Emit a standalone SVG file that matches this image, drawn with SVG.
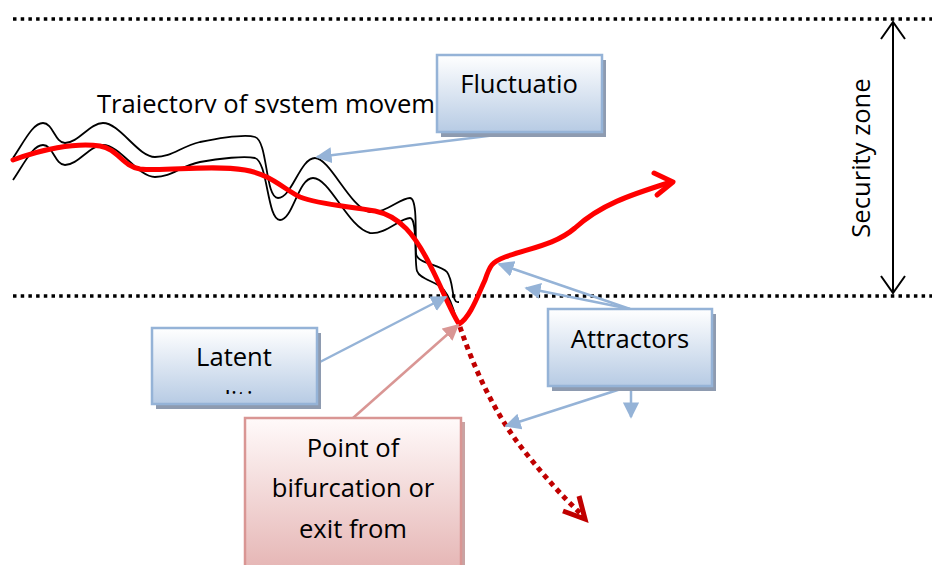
<svg xmlns="http://www.w3.org/2000/svg" width="932" height="565" viewBox="0 0 932 565">
<style>
text{font-family:"Open Sans","Noto Sans",sans-serif;font-size:25.6px;fill:#000}
.dot{stroke:#000;stroke-width:3.5;stroke-dasharray:3.5 4.2;fill:none}
.blk{stroke:#000;stroke-width:1.8;fill:none}
.conn{stroke:#95b3d7;stroke-width:2.5;fill:none;marker-end:url(#ab)}
.bbox{fill:url(#gb);stroke:#95b3d7;stroke-width:2.5}
.pbox{fill:url(#gp);stroke:#d99694;stroke-width:2.5}
.shadow{fill:#8e9bb0}
</style>
<defs>
<linearGradient id="gb" x1="0" y1="0" x2="0" y2="1"><stop offset="0" stop-color="#ffffff"/><stop offset="1" stop-color="#b7cbe4"/></linearGradient>
<linearGradient id="gp" x1="0" y1="0" x2="0" y2="1"><stop offset="0" stop-color="#fffafa"/><stop offset="1" stop-color="#e4b2b1"/></linearGradient>
<marker id="ab" viewBox="0 0 10 10" refX="9" refY="5" markerWidth="6.5" markerHeight="6.5" orient="auto" markerUnits="strokeWidth"><path d="M0,0 L10,5 L0,10 Z" fill="#95b3d7"/></marker>
<marker id="ap" viewBox="0 0 10 10" refX="9" refY="5" markerWidth="6.5" markerHeight="6.5" orient="auto" markerUnits="strokeWidth"><path d="M0,0 L10,5 L0,10 Z" fill="#d99694"/></marker>
<clipPath id="cTraj"><rect x="0" y="0" width="932" height="113"/></clipPath>
<clipPath id="cLat"><rect x="150" y="320" width="170" height="74"/></clipPath>
</defs>

<g id="zone-lines">
<line class="dot" x1="13" y1="19" x2="932" y2="19"/>
<line class="dot" x1="13" y1="296" x2="932" y2="296"/>
</g>

<g id="security-zone">
<line x1="893" y1="22" x2="893" y2="293" stroke="#000" stroke-width="2"/>
<polyline points="881,39 893,22 905,39" fill="none" stroke="#000" stroke-width="2"/>
<polyline points="881,276 893,293 905,276" fill="none" stroke="#000" stroke-width="2"/>
<text x="0" y="0" text-anchor="middle" transform="translate(870,158) rotate(-90)">Security zone</text>
</g>

<g id="trajectory-label">
<text x="97" y="113" clip-path="url(#cTraj)">Trajectory of system movem</text>
</g>

<g id="fluctuations">
<path class="blk" d="M13,158 C25,140 33,123 43,123 C53,123 55,143 65,143 C78,143 90,123 103,123 C120,123 138,157 155,157 C172,157 180,147 200,142 C220,138 245,134 255,137 C268,141 265,198 278,198 C292,198 300,158 315,158 C330,158 350,208 370,212 C385,214 400,198 410,198 C418,198 415,240 416,254 C418,264 440,264 447,272 C453,280 452,296 455,300 C456,303 458,302 459,302"/>
<path class="blk" d="M13,180 C25,162 33,145 43,145 C53,145 55,165 65,165 C78,165 90,145 103,145 C120,145 138,177 155,177 C172,177 180,166 200,162 C220,158 245,156 255,158 C268,162 267,220 280,220 C293,220 298,178 313,178 C330,178 348,228 370,233 C385,235 400,218 410,218 C418,218 414,262 417,271 C420,280 437,281 444,290 C452,300 455,315 457,322"/>
</g>

<g id="main-trajectory">
<path d="M13,160 C40,150 75,142 100,146 C118,149 122,166 140,169 C165,172 210,164 245,170 C270,174 285,190 300,197 C320,205 350,206 375,211 C400,216 415,235 430,265 C442,288 450,310 459,324 C470,318 478,295 485,280 C490,265 492,262 505,257 C530,248 555,245 575,228 C600,205 630,195 668,183" fill="none" stroke="#ff0000" stroke-width="5" stroke-linecap="round" stroke-linejoin="round"/>
<polyline points="654,173 673,182 657,195" fill="none" stroke="#ff0000" stroke-width="5" stroke-linecap="round" stroke-linejoin="round"/>
</g>

<g id="exit-path">
<path d="M460,327 C474,368 495,415 525,452 C545,477 563,497 580,513" fill="none" stroke="#c00000" stroke-width="5" stroke-dasharray="5 4.5"/>
<polyline points="563,511 585,519 579,496" fill="none" stroke="#c00000" stroke-width="5" stroke-linejoin="miter"/>
</g>

<g id="connectors">
<line class="conn" x1="520" y1="132" x2="317" y2="157"/>
<line class="conn" x1="318" y1="363" x2="446" y2="297"/>
<line class="conn" x1="630" y1="309" x2="499" y2="264"/>
<line class="conn" x1="630" y1="309" x2="526" y2="288"/>
<line class="conn" x1="627" y1="387" x2="506" y2="426"/>
<line class="conn" x1="631" y1="387" x2="631" y2="417"/>
<line x1="353" y1="418" x2="458" y2="325" stroke="#d99694" stroke-width="2.5" marker-end="url(#ap)"/>
</g>

<g id="node-fluctuation">
<rect class="shadow" x="441" y="60" width="165" height="77"/>
<rect class="bbox" x="437" y="55" width="165" height="77"/>
<text x="519" y="93" text-anchor="middle">Fluctuatio</text>
</g>

<g id="node-latent">
<rect class="shadow" x="156" y="333" width="165" height="76"/>
<rect class="bbox" x="152" y="328" width="165" height="76"/>
<text x="234" y="366" text-anchor="middle">Latent</text>
<text x="234" y="408.5" text-anchor="middle" clip-path="url(#cLat)">conditions</text>
</g>

<g id="node-attractors">
<rect class="shadow" x="552" y="314" width="164" height="77"/>
<rect class="bbox" x="548" y="309" width="164" height="77"/>
<text x="630" y="348" text-anchor="middle">Attractors</text>
</g>

<g id="node-bifurcation">
<rect x="249" y="422" width="216" height="160" fill="#c9a3a3"/>
<rect class="pbox" x="245" y="418" width="216" height="160"/>
<text x="353" y="457" text-anchor="middle">Point of</text>
<text x="353" y="497" text-anchor="middle">bifurcation or</text>
<text x="353" y="538" text-anchor="middle">exit from</text>
</g>
</svg>
